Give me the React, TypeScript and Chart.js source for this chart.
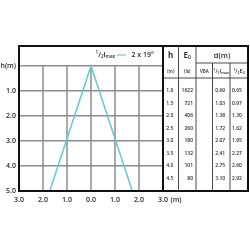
import React, { useEffect, useRef } from "react";
import { Chart, registerables } from "chart.js";
Chart.register(...registerables);

// ---- data ----
const xTicks = [-3, -2, -1, 0, 1, 2, 3];
const yTicks = [0, 1, 2, 3, 4, 5];
const beamX = [-1.72, 0, 1.72];
const beamH = [5, 0, 5];
const beamLabel = "2 x 19°";
const heights = [1.0, 1.5, 2.0, 2.5, 3.0, 3.5, 4.0, 4.5];
const illuminance = [1622, 721, 406, 260, 180, 132, 101, 80];
const diamHalfImax = [0.69, 1.03, 1.38, 1.72, 2.07, 2.41, 2.75, 3.10];
const diamHalfE0 = [0.65, 0.97, 1.30, 1.62, 1.95, 2.27, 2.60, 2.92];

const FONT = "'Open Sans', sans-serif";
const TEXT = "#2a2a2a";
const GRID = "#8c8c8c";
const CYAN = "#62c8e2";

const font = (s: number, w = 600) => `${w} ${s}px ${FONT}`;

type Part = { t: string; s: number; dy?: number; w?: number };
function rich(ctx: CanvasRenderingContext2D, parts: Part[], x: number, y: number, align: "left" | "center" | "right") {
  let total = 0;
  const widths = parts.map((p) => {
    ctx.font = font(p.s, p.w ?? 600);
    const w = ctx.measureText(p.t).width;
    total += w;
    return w;
  });
  let cx = align === "left" ? x : align === "center" ? x - total / 2 : x - total;
  ctx.textBaseline = "middle";
  ctx.textAlign = "left";
  ctx.fillStyle = TEXT;
  parts.forEach((p, i) => {
    ctx.font = font(p.s, p.w ?? 600);
    ctx.fillText(p.t, cx, y + (p.dy || 0));
    cx += widths[i];
  });
  return total;
}

const half = (s: number): Part[] => [
  { t: "1", s: s * 0.65, dy: -s * 0.35 },
  { t: "/", s: s },
  { t: "2", s: s * 0.65, dy: s * 0.25 },
];

const overlay = {
  id: "overlay",
  beforeDatasetsDraw(chart: any) {
    const { ctx, scales } = chart;
    const { x, y } = scales;
    ctx.save();
    ctx.strokeStyle = GRID;
    ctx.lineWidth = 1.5;
    xTicks.slice(1, -1).forEach((v) => {
      const px = x.getPixelForValue(v);
      ctx.beginPath();
      ctx.moveTo(px, y.getPixelForValue(yTicks[0]));
      ctx.lineTo(px, y.getPixelForValue(yTicks[yTicks.length - 1]));
      ctx.stroke();
    });
    ctx.restore();
  },
  afterDraw(chart: any) {
    const { ctx, chartArea: a, scales } = chart;
    const { x, y } = scales;
    const right = 248;
    const cols = [a.right, a.right + 15.5, a.right + 33, a.right + 49.5, a.right + 67, right];
    const subTop = 63;
    const headBottom = 78;
    ctx.save();

    // table inner lines
    ctx.strokeStyle = "#4a4a4a";
    ctx.lineWidth = 1;
    ctx.beginPath();
    ctx.moveTo(cols[1], a.top); ctx.lineTo(cols[1], a.bottom);
    ctx.moveTo(cols[2], a.top); ctx.lineTo(cols[2], a.bottom);
    ctx.moveTo(cols[3], subTop); ctx.lineTo(cols[3], a.bottom);
    ctx.moveTo(cols[4], subTop); ctx.lineTo(cols[4], a.bottom);
    ctx.moveTo(cols[2], subTop); ctx.lineTo(right, subTop);
    ctx.moveTo(cols[0], headBottom); ctx.lineTo(right, headBottom);
    ctx.stroke();

    // frame
    ctx.strokeStyle = "#111";
    ctx.lineWidth = 2;
    ctx.strokeRect(a.left, a.top, right - a.left, a.bottom - a.top);
    ctx.beginPath();
    ctx.moveTo(a.right, a.top);
    ctx.lineTo(a.right, a.bottom);
    ctx.stroke();

    const c = (i: number) => (cols[i] + cols[i + 1]) / 2;
    // headers
    rich(ctx, [{ t: "h", s: 8, w: 700 }], c(0), 56, "center");
    rich(ctx, [{ t: "E", s: 8, w: 600 }, { t: "0", s: 5, dy: 2 }], c(1), 56, "center");
    rich(ctx, [{ t: "d(m)", s: 7.5, w: 600 }], (cols[2] + right) / 2, 56, "center");
    const sy = 71.5;
    rich(ctx, [{ t: "(m)", s: 4.5 }], c(0), sy, "center");
    rich(ctx, [{ t: "(lx)", s: 4.5 }], c(1), sy, "center");
    rich(ctx, [{ t: "VBA", s: 4.5 }], c(2), sy, "center");
    rich(ctx, [...half(5.5), { t: "I", s: 5.5 }, { t: "max", s: 3.8, dy: 1.5 }], c(3), sy, "center");
    rich(ctx, [...half(5.5), { t: "E", s: 5.5 }, { t: "0", s: 3.8, dy: 1.5 }], c(4), sy, "center");

    // rows
    heights.forEach((h, i) => {
      const py = y.getPixelForValue(h);
      rich(ctx, [{ t: h.toFixed(1), s: 5 }], c(0) - 1, py, "center");
      rich(ctx, [{ t: String(illuminance[i]), s: 5 }], cols[2] - 3, py, "right");
      rich(ctx, [{ t: diamHalfImax[i].toFixed(2), s: 5 }], c(3) - 1, py, "center");
      rich(ctx, [{ t: diamHalfE0[i].toFixed(2), s: 5 }], c(4) - 2, py, "center");
    });

    // legend
    const ly = 55;
    const lineStart = 117;
    rich(ctx, [...half(7), { t: "I", s: 7 }, { t: "max", s: 4.5, dy: 2 }], lineStart - 2, ly, "right");
    ctx.strokeStyle = CYAN;
    ctx.lineWidth = 1.2;
    ctx.beginPath();
    ctx.moveTo(lineStart, ly);
    ctx.lineTo(lineStart + 9, ly);
    ctx.stroke();
    rich(ctx, [{ t: beamLabel, s: 7 }], lineStart + 14.5, ly, "left");

    // x unit
    ctx.font = font(7);
    const lastX = x.getPixelForValue(xTicks[xTicks.length - 1]);
    const w = ctx.measureText(Math.abs(xTicks[xTicks.length - 1]).toFixed(1)).width;
    rich(ctx, [{ t: "(m)", s: 7 }], lastX + w / 2 + 2.5, 199.5, "left");
    ctx.restore();
  },
};

export default function App() {
  const ref = useRef<HTMLCanvasElement>(null);
  useEffect(() => {
    if (!ref.current) return;
    const chart = new Chart(ref.current, {
      type: "scatter",
      data: {
        datasets: [
          {
            data: beamX.map((v, i) => ({ x: v, y: beamH[i] })),
            showLine: true,
            borderColor: CYAN,
            borderWidth: 1.5,
            pointRadius: 0,
            fill: false,
            tension: 0,
          },
        ],
      },
      options: {
        responsive: false,
        animation: false,
        layout: { padding: { top: 46, right: 87, left: 0, bottom: 0 } },
        plugins: { legend: { display: false }, tooltip: { enabled: false } },
        scales: {
          x: {
            type: "linear",
            min: -3,
            max: 3,
            afterBuildTicks: (s: any) => {
              s.ticks = xTicks.map((v) => ({ value: v }));
            },
            afterFit: (s: any) => {
              s.height = 59;
            },
            grid: { display: false, drawTicks: false },
            border: { display: false },
            ticks: {
              callback: (v: any) => Math.abs(Number(v)).toFixed(1),
              font: { family: FONT, size: 7, weight: "600" },
              color: TEXT,
              padding: 5,
              maxRotation: 0,
              autoSkip: false,
            },
          },
          y: {
            type: "linear",
            reverse: true,
            min: -0.8,
            max: 5,
            afterBuildTicks: (s: any) => {
              s.ticks = yTicks.map((v) => ({ value: v }));
            },
            afterFit: (s: any) => {
              s.width = 19;
            },
            grid: { color: GRID, lineWidth: 1.5, drawTicks: false },
            border: { display: false },
            ticks: {
              callback: (v: any) => (Number(v) === 0 ? "h(m)" : Number(v).toFixed(1)),
              font: { family: FONT, size: 7, weight: "600" },
              color: TEXT,
              padding: 3,
              autoSkip: false,
            },
          },
        },
      },
      plugins: [overlay],
    } as any);
    return () => chart.destroy();
  }, []);
  return (
    <div style={{ position: "absolute", left: 0, top: 0, width: 250, height: 250, background: "#fff" }}>
      <canvas ref={ref} width={250} height={250} style={{ display: "block" }} />
    </div>
  );
}
